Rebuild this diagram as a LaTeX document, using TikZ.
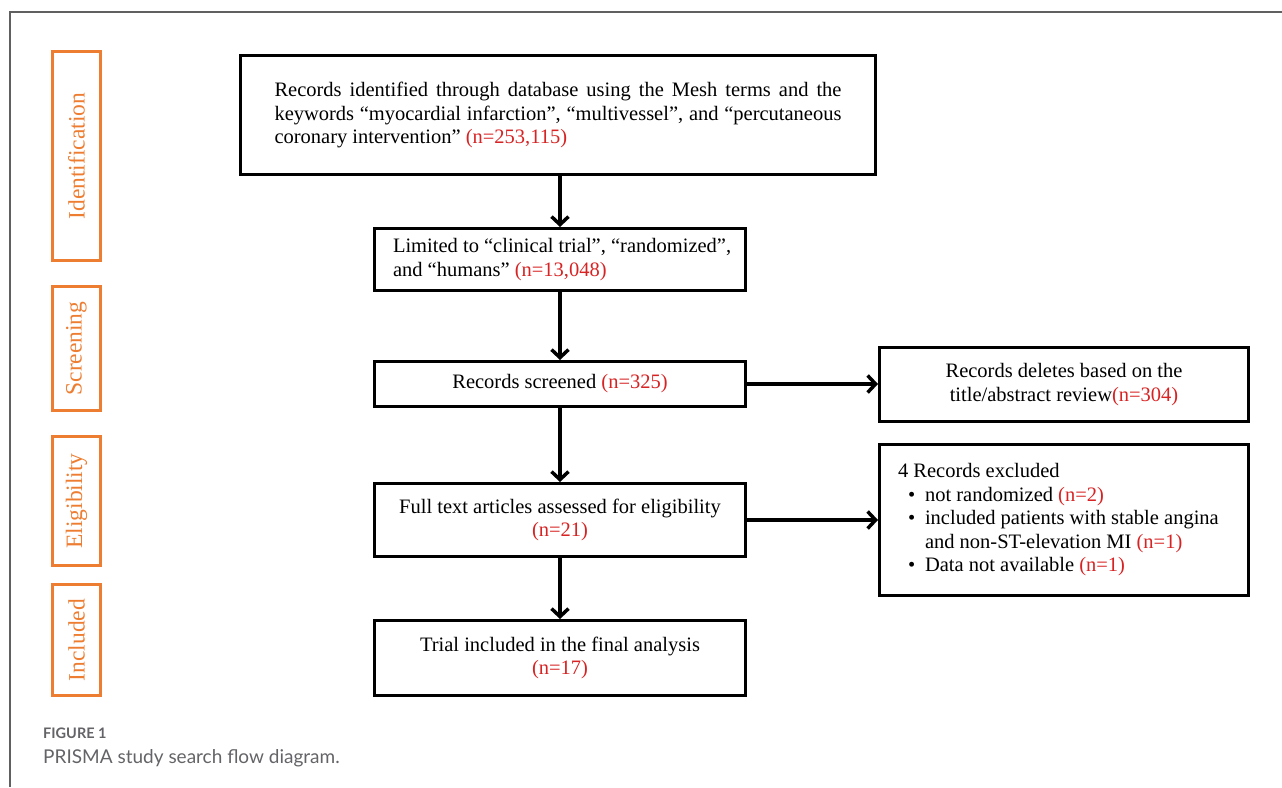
\documentclass[tikz,border=0pt]{standalone}
\usepackage{fontspec}
\setmainfont{Liberation Serif}
\newfontfamily\capfont{Lato}
\usetikzlibrary{arrows.meta}
\definecolor{stageorange}{RGB}{237,125,49}
\definecolor{numred}{RGB}{215,35,35}
\definecolor{framegray}{RGB}{96,96,96}
\definecolor{capgray}{RGB}{100,100,104}
\newcommand{\nred}[1]{\textcolor{numred}{#1}}
\tikzset{
  box/.style={draw=black, line width=3pt, rectangle, inner sep=0pt, align=center,
    font=\fontsize{20.5}{23.5}\selectfont},
  stage/.style={draw=stageorange, line width=3.5pt, rectangle, inner sep=0pt,
    text=stageorange, font=\fontsize{23}{26}\selectfont},
  stagelabel/.style={rotate=90, text=stageorange, font=\fontsize{23.5}{26}\selectfont, inner sep=0pt},
  arr/.style={line width=3.5pt, -{Straight Barb[length=8pt,width=17pt]}},
  frameline/.style={draw=framegray, line width=1.5pt},
}
\begin{document}
\begin{tikzpicture}[x=1pt,y=-1pt]
\useasboundingbox (0,0) rectangle (1282,787);
% frame
\coordinate (fbl) at (10,787);
\coordinate (ftl) at (10,12);
\coordinate (ftr) at (1282,12);
\draw[frameline] (fbl) -- (ftl) -- (ftr);

% stage boxes
\node[stage, minimum width=48pt, minimum height=209pt] (sid) at (76.5,156) {};
\node[stagelabel] (sidt) at (sid.center) {Identification};
\node[stage, minimum width=48pt, minimum height=124pt] (ssc) at (76.5,348.5) {};
\node[stagelabel] (ssct) at (ssc.center) {Screening};
\node[stage, minimum width=48pt, minimum height=129pt] (sel) at (76.5,501) {};
\node[stagelabel] (selt) at (sel.center) {Eligibility};
\node[stage, minimum width=48pt, minimum height=111pt] (sin) at (76.5,640) {};
\node[stagelabel] (sint) at (sin.center) {Included};

% main boxes
\node[box, minimum width=635pt, minimum height=119pt] (b1) at (558,115) {\parbox{567pt}{\makebox[567pt][s]{Records identified through database using the Mesh terms and the}\\
\makebox[567pt][s]{keywords “myocardial infarction”, “multivessel”, and “percutaneous}\\
coronary intervention” \nred{(n=253,115)}}};

\node[box, minimum width=371pt, minimum height=62pt] (b2) at (560,259.5) {\parbox{334pt}{\raggedright \mbox{Limited to “clinical trial”, “randomized”,}\\ \mbox{and “humans” \nred{(n=13,048)}}}};

\node[box, minimum width=371pt, minimum height=45pt] (b3) at (560,384) {Records screened \nred{(n=325)}};

\node[box, minimum width=371pt, minimum height=73pt] (b4) at (560,520) {Full text articles assessed for eligibility\\ \nred{(n=21)}};

\node[box, minimum width=371pt, minimum height=75pt] (b5) at (560,658) {Trial included in the final analysis\\ \nred{(n=17)}};

\node[box, minimum width=369pt, minimum height=74pt] (r1) at (1064,384.5) {Records deletes based on the\\ title/abstract review\nred{(n=304)}};

\node[box, minimum width=369pt, minimum height=151pt] (r2) at (1064,520) {\parbox{332pt}{\raggedright 4 Records excluded\\
\makebox[27pt][l]{\hspace{10pt}•}not randomized \nred{(n=2)}\\
\makebox[27pt][l]{\hspace{10pt}•}included patients with stable angina\\
\hspace*{27pt}and non-ST-elevation MI \nred{(n=1)}\\
\makebox[27pt][l]{\hspace{10pt}•}Data not available \nred{(n=1)}}};

% connectors
\draw[arr] (b1.south -| b2.north) -- (b2.north);
\draw[arr] (b2.south) -- (b3.north);
\draw[arr] (b3.south) -- (b4.north);
\draw[arr] (b4.south) -- (b5.north);
\draw[arr] (b3.east) -- (b3.east -| r1.west);
\draw[arr] (b4.east) -- (b4.east -| r2.west);

% caption
\node[anchor=base west, inner sep=0pt, text=capgray, font=\capfont\bfseries\fontsize{14.5}{16}\selectfont] (cap1) at (43,738) {FIGURE 1};
\node[anchor=base west, inner sep=0pt, text=capgray, font=\capfont\fontsize{19}{22}\selectfont] (cap2) at (43,763) {PRISMA study search flow diagram.};
\end{tikzpicture}
\end{document}
